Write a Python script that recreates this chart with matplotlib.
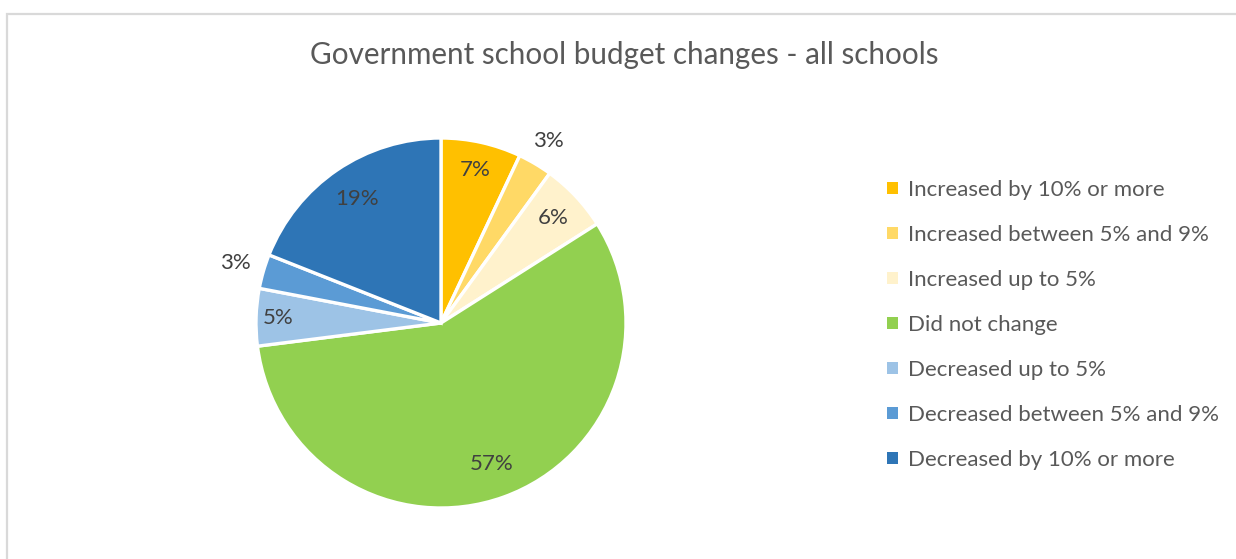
import matplotlib

matplotlib.use("Agg")

import matplotlib.pyplot as plt
import numpy as np
from matplotlib.patches import Rectangle

plt.rcParams["font.family"] = ["Lato", "DejaVu Sans"]

TITLE = "Government school budget changes - all schools"

categories = [
    "Increased by 10% or more",
    "Increased between 5% and 9%",
    "Increased up to 5%",
    "Did not change",
    "Decreased up to 5%",
    "Decreased between 5% and 9%",
    "Decreased by 10% or more",
]
shares = [7, 3, 6, 57, 5, 3, 19]
colors = ["#FFC000", "#FFD966", "#FFF2CC", "#92D050", "#9DC3E6", "#5B9BD5", "#2E75B6"]
# how far from the centre each percentage label sits (fraction of radius)
label_dist = [0.85, 1.14, 0.83, 0.81, 0.88, 1.16, 0.81]

W, H = 1236, 559
fig = plt.figure(figsize=(W / 100, H / 100), dpi=100)

# light chart-area frame (runs off the right and bottom edges)
fig.patches.append(Rectangle((7 / W, -0.1), 1.2, (559 - 14) / H + 0.1,
                             transform=fig.transFigure, fill=False,
                             edgecolor="#d9d9d9", linewidth=1.6))

fig.text(624 / W, 1 - 55 / H, TITLE, ha="center", va="center",
         fontsize=21.3, color="#595959")

cx, cy, r = 441, 323, 185
ax = fig.add_axes([(cx - r) / W, (H - cy - r) / H, 2 * r / W, 2 * r / H])
wedges, _ = ax.pie(shares, colors=colors, startangle=90, counterclock=False,
                   radius=1, wedgeprops=dict(edgecolor="white", linewidth=2.4))
ax.set_xlim(-1, 1)
ax.set_ylim(-1, 1)
ax.axis("off")

for w, val, d in zip(wedges, shares, label_dist):
    mid = np.deg2rad((w.theta1 + w.theta2) / 2)
    ax.text(d * np.cos(mid), d * np.sin(mid), f"{val}%", ha="center",
            va="center", fontsize=16, color="#404040", clip_on=False)

leg = fig.legend(wedges, categories, loc="upper left",
                 bbox_to_anchor=(867 / W, 1 - 160 / H), frameon=False,
                 fontsize=16, labelcolor="#595959", handlelength=0.5,
                 handleheight=0.5, handletextpad=0.45, labelspacing=1.125)
for h in leg.legend_handles:
    h.set_edgecolor("none")

fig.savefig("out.png", dpi=100)
